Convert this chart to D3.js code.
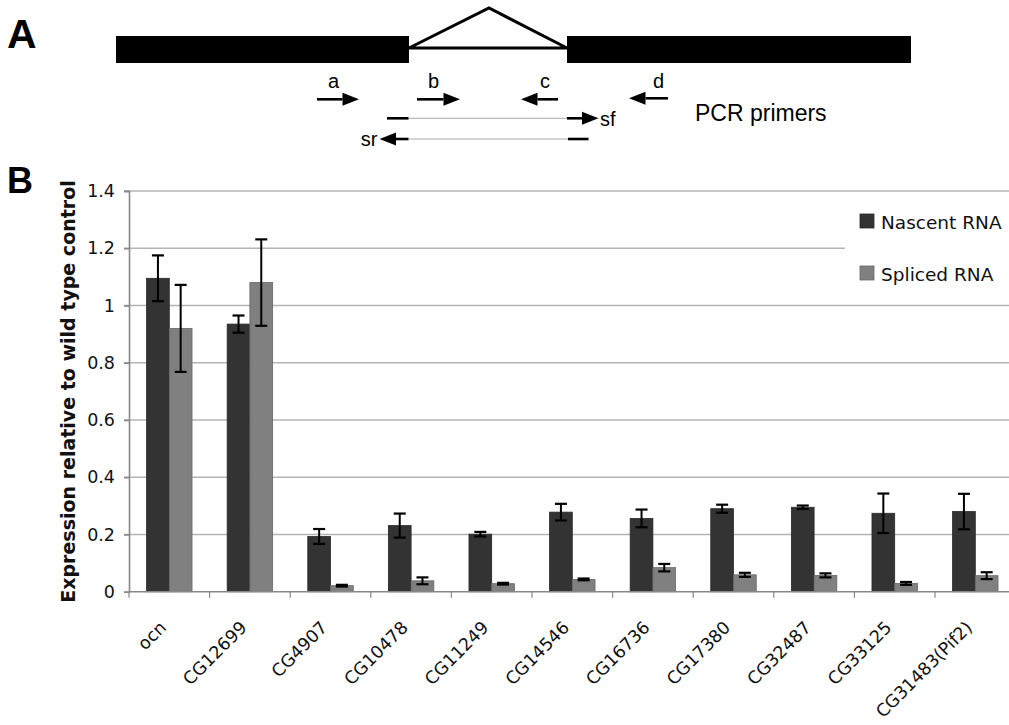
<!DOCTYPE html>
<html>
<head>
<meta charset="utf-8">
<script src="https://cdn.jsdelivr.net/npm/d3@7"></script>
<style>
  body { margin: 0; background: #fff; }
  svg { display: block; }
</style>
</head>
<body>
<svg id="fig" width="1009" height="725"></svg>
<script>
var genes = ['ocn','CG12699','CG4907','CG10478','CG11249','CG14546','CG16736','CG17380','CG32487','CG33125','CG31483(Pif2)'];
var nascent    = [1.095, 0.935, 0.193, 0.231, 0.201, 0.278, 0.256, 0.290, 0.295, 0.274, 0.280];
var nascentErr = [0.080, 0.030, 0.026, 0.042, 0.008, 0.029, 0.031, 0.014, 0.006, 0.069, 0.062];
var spliced    = [0.920, 1.080, 0.021, 0.038, 0.028, 0.043, 0.084, 0.059, 0.057, 0.029, 0.056];
var splicedErr = [0.152, 0.151, 0.003, 0.012, 0.003, 0.003, 0.013, 0.007, 0.007, 0.005, 0.012];
var series = ['Nascent RNA', 'Spliced RNA'];
var seriesColors = ['#333333', '#808080'];
var yTicks = [0, 0.2, 0.4, 0.6, 0.8, 1, 1.2, 1.4];

var svg = d3.select('#fig');

// ---------- panel A : gene schematic ----------
var A = svg.append('g');
A.append('text').attr('x', 7).attr('y', 48)
  .style('font-family', 'Liberation Sans, Arial, sans-serif')
  .style('font-weight', 'bold').style('font-size', '41px').text('A');

// exons
A.append('rect').attr('x', 116).attr('y', 36).attr('width', 293).attr('height', 27).attr('fill', '#000');
A.append('rect').attr('x', 567).attr('y', 36).attr('width', 344).attr('height', 27).attr('fill', '#000');
// intron triangle
A.append('path').attr('d', 'M409,48 L489,8 L567,48 Z')
  .attr('fill', 'none').attr('stroke', '#000').attr('stroke-width', 3).attr('stroke-linejoin', 'miter');

function arrow(g, x1, x2, y) {
  // x2 is the tip
  var dir = x2 > x1 ? 1 : -1, hl = 16.5, hw = 6.5;
  g.append('line').attr('x1', x1).attr('x2', x2 - dir * hl).attr('y1', y).attr('y2', y)
    .attr('stroke', '#000').attr('stroke-width', 2.6);
  g.append('path').attr('d', 'M' + x2 + ',' + y + ' L' + (x2 - dir * hl) + ',' + (y - hw) +
    ' L' + (x2 - dir * hl) + ',' + (y + hw) + ' Z').attr('fill', '#000');
}
var lblFont = 'Liberation Sans, Arial, sans-serif';
function lbl(g, x, y, t, size, anchor) {
  g.append('text').attr('x', x).attr('y', y).attr('text-anchor', anchor || 'middle')
    .style('font-family', lblFont).style('font-size', size + 'px').text(t);
}
arrow(A, 317, 359, 99.3); lbl(A, 333.5, 88.3, 'a', 20);
arrow(A, 417, 460, 99.3); lbl(A, 433.5, 88.3, 'b', 20);
arrow(A, 558, 521, 99.3); lbl(A, 545, 88.3, 'c', 20);
arrow(A, 668, 629, 98.3); lbl(A, 658.5, 88.3, 'd', 20);
lbl(A, 695, 120.7, 'PCR primers', 23, 'start');

// spliced forward primer
A.append('line').attr('x1', 387).attr('x2', 408.5).attr('y1', 118.3).attr('y2', 118.3).attr('stroke', '#000').attr('stroke-width', 2.6);
A.append('line').attr('x1', 408.5).attr('x2', 567).attr('y1', 118.3).attr('y2', 118.3)
  .attr('stroke', '#555').attr('stroke-width', 1).attr('stroke-dasharray', '1,1');
arrow(A, 567, 598.5, 118.3);
lbl(A, 600, 126, 'sf', 20, 'start');
// spliced reverse primer
arrow(A, 408.5, 379.5, 139);
A.append('line').attr('x1', 408.5).attr('x2', 568).attr('y1', 139).attr('y2', 139)
  .attr('stroke', '#555').attr('stroke-width', 1).attr('stroke-dasharray', '1,1');
A.append('line').attr('x1', 568).attr('x2', 588.5).attr('y1', 139).attr('y2', 139).attr('stroke', '#000').attr('stroke-width', 2.6);
lbl(A, 377.5, 145.5, 'sr', 20, 'end');

// ---------- panel B : bar chart ----------
svg.append('text').attr('x', 7).attr('y', 193)
  .style('font-family', 'Liberation Sans, Arial, sans-serif')
  .style('font-weight', 'bold').style('font-size', '36px').text('B');

var chartFont = 'DejaVu Sans, Verdana, sans-serif';
var x0 = 129, y0 = 591.7, yTop = 191;
var x = d3.scaleBand().domain(genes).range([x0, x0 + 80.6 * genes.length]).padding(0);
var barW = x.bandwidth() * 0.282;
var xs = d3.scaleBand().domain(series).range([-barW, barW]);
var y = d3.scaleLinear().domain([0, 1.4]).range([y0, yTop]);

// gridlines
svg.append('g').selectAll('line').data(yTicks.filter(function(d){ return d > 0; })).enter().append('line')
  .attr('x1', x0 - 5).attr('x2', 1009)
  .attr('y1', function(d){ return y(d); }).attr('y2', function(d){ return y(d); })
  .attr('stroke', '#b4b4b4').attr('stroke-width', 1.6);

// y axis
var yAxis = svg.append('g').attr('transform', 'translate(' + x0 + ',0)')
  .call(d3.axisLeft(y).tickValues(yTicks).tickSize(5).tickPadding(9).tickFormat(function(d){ return d3.format('')(+d.toFixed(1)); }));
yAxis.select('.domain').attr('stroke', '#888').attr('stroke-width', 1.6);
yAxis.selectAll('.tick line').attr('stroke', '#888').attr('stroke-width', 1.6);
yAxis.selectAll('.tick text').style('font-family', chartFont).style('font-size', '17.5px').attr('fill', '#111');

// legend background box hides the gridline behind it
svg.append('rect').attr('x', 845).attr('y', 200).attr('width', 170).attr('height', 98).attr('fill', '#fff');

// bars
var rows = genes.map(function(g, i) {
  return [
    { gene: g, s: series[0], v: nascent[i], e: nascentErr[i], c: seriesColors[0] },
    { gene: g, s: series[1], v: spliced[i],  e: splicedErr[i],  c: seriesColors[1] }
  ];
});
var flat = [].concat.apply([], rows);
var cx = function(d){ return x(d.gene) + x.bandwidth() / 2 + xs(d.s); };

svg.append('g').selectAll('rect').data(flat).enter().append('rect')
  .attr('x', cx)
  .attr('y', function(d){ return y(d.v); })
  .attr('width', xs.bandwidth())
  .attr('height', function(d){ return y0 - y(d.v); })
  .attr('fill', function(d){ return d.c; })
  .attr('stroke', function(d){ return d3.color(d.c).darker(0.6); })
  .attr('stroke-width', 0.8);

// x axis
var xAxis = svg.append('g').attr('transform', 'translate(0,' + y0 + ')');
xAxis.append('line').attr('x1', x0).attr('x2', 1009).attr('y1', 0).attr('y2', 0)
  .attr('stroke', '#888').attr('stroke-width', 1.6);
xAxis.selectAll('line.tk').data(genes).enter().append('line').attr('class', 'tk')
  .attr('x1', function(d){ return x(d); }).attr('x2', function(d){ return x(d); })
  .attr('y1', 0).attr('y2', 6).attr('stroke', '#888').attr('stroke-width', 1.2);
xAxis.selectAll('text').data(genes).enter().append('text')
  .attr('transform', function(d){ return 'translate(' + (x(d) + x.bandwidth() / 2 - 2) + ',37) rotate(-45)'; })
  .attr('text-anchor', 'end')
  .style('font-family', chartFont).style('font-size', '17.5px').attr('fill', '#111')
  .text(function(d){ return d; });

// error bars
var eb = svg.append('g').selectAll('g').data(flat).enter().append('g')
  .attr('transform', function(d){ return 'translate(' + (cx(d) + xs.bandwidth() / 2) + ',0)'; });
eb.append('line').attr('x1', 0).attr('x2', 0)
  .attr('y1', function(d){ return y(d.v - d.e); }).attr('y2', function(d){ return y(d.v + d.e); })
  .attr('stroke', '#000').attr('stroke-width', 2);
eb.append('line').attr('x1', -6).attr('x2', 6)
  .attr('y1', function(d){ return y(d.v + d.e); }).attr('y2', function(d){ return y(d.v + d.e); })
  .attr('stroke', '#000').attr('stroke-width', 2.2);
eb.append('line').attr('x1', -6).attr('x2', 6)
  .attr('y1', function(d){ return y(d.v - d.e); }).attr('y2', function(d){ return y(d.v - d.e); })
  .attr('stroke', '#000').attr('stroke-width', 2.2);

// y title
svg.append('text')
  .attr('transform', 'translate(75,391.5) rotate(-90)')
  .attr('text-anchor', 'middle')
  .style('font-family', chartFont).style('font-weight', 'bold').style('font-size', '19px')
  .attr('fill', '#111')
  .text('Expression relative to wild type control');

// legend
var leg = svg.append('g').selectAll('g').data(series).enter().append('g')
  .attr('transform', function(d, i){ return 'translate(860,' + (214 + i * 52) + ')'; });
leg.append('rect').attr('width', 14).attr('height', 14)
  .attr('fill', function(d, i){ return seriesColors[i]; })
  .attr('stroke', function(d, i){ return d3.color(seriesColors[i]).darker(0.6); }).attr('stroke-width', 0.8);
leg.append('text').attr('x', 21).attr('y', 14.5)
  .style('font-family', chartFont).style('font-size', '18.5px').attr('fill', '#111')
  .text(function(d){ return d; });
</script>
</body>
</html>
